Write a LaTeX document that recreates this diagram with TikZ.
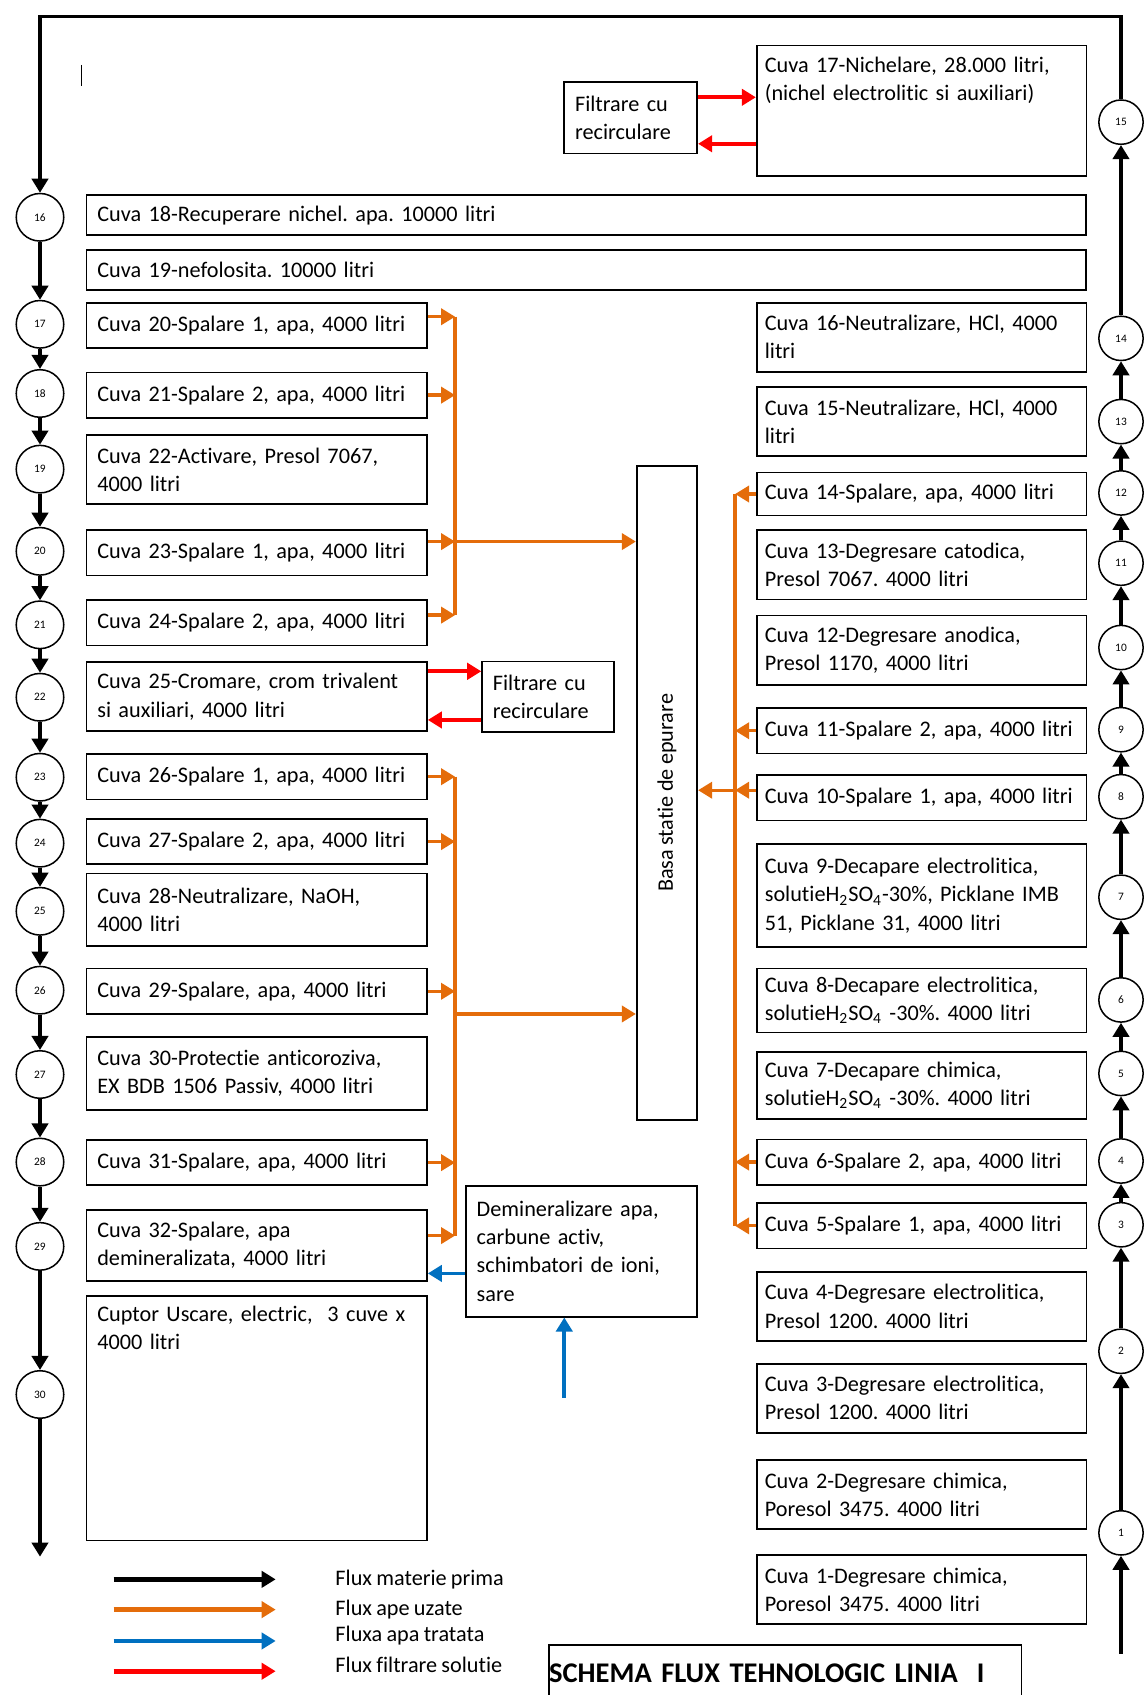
\documentclass[tikz,border=0pt]{standalone}
\usepackage{fontspec}
\setmainfont{Carlito}[Ligatures=NoCommon, WordSpace=0.85]
\frenchspacing
\usepackage{graphicx}
\usetikzlibrary{arrows.meta, calc}
\definecolor{wasteorange}{RGB}{228, 108, 10}
\definecolor{treatblue}{RGB}{0, 112, 192}
\definecolor{filterred}{RGB}{255, 0, 0}

\begin{document}
\begin{tikzpicture}[
  x=0.02cm, y=-0.02cm,
  >={Triangle[length=0.26cm, width=0.3cm]},
  cuva/.style={draw, line width=0.9pt, inner xsep=0.2cm, inner ysep=0.1cm, align=left, font=\fontsize{11.7}{14.8}\selectfont},
  lbox/.style={cuva, text width=5.9cm},
  rbox/.style={cuva, inner xsep=0.15cm, text width=5.8cm},
  wbox/.style={cuva, text width=18.1cm},
  h1/.style={minimum height=0.84cm},
  h2/.style={minimum height=1.28cm},
  nod/.style={circle, draw, line width=0.8pt, inner sep=0pt, minimum size=0.88cm, font=\fontsize{6}{7}\selectfont},
  rnod/.style={nod, minimum size=0.82cm},
  matflow/.style={->, line width=1.8pt},
  wasteflow/.style={->, wasteorange, line width=1.7pt},
  wasteline/.style={wasteorange, line width=1.7pt},
  treatflow/.style={->, treatblue, line width=1.9pt},
  filterflow/.style={->, filterred, line width=2pt},
  legflow/.style={->, line width=2.6pt},
  legtext/.style={anchor=west, inner sep=0pt, font=\fontsize{11.7}{14.8}\selectfont}
]
  \fill[white] (0,0) rectangle (1060,1568);
  \useasboundingbox (0,0) rectangle (1060,1568);

  % Stations along the line
  \foreach \n/\y in {16/201, 17/300, 18/364, 19/434, 20/510, 21/578, 22/645, 23/719, 24/780, 25/843, 26/916, 27/994, 28/1075, 29/1153, 30/1290}
    \node[nod] (c\n) at (37,\y) {\n};
  \foreach \n/\y in {1/1418, 2/1250, 3/1133, 4/1074, 5/993, 6/925, 7/830, 8/737, 9/675, 10/599, 11/521, 12/456, 13/390, 14/313, 15/113}
    \node[rnod] (c\n) at (1037,\y) {\n};

  \coordinate (inright) at (1037,1530);
  \coordinate (topleft) at (37,15);
  \coordinate (outleft) at (37,1440);

  % Raw material flow
  \draw[matflow] (inright) -- (c1);
  \foreach \i in {1,...,14} {
    \pgfmathtruncatemacro{\j}{\i+1}
    \draw[matflow] (c\i) -- (c\j);
  }
  \draw[matflow] (c15) |- (topleft) -- (c16);
  \foreach \i in {16,...,29} {
    \pgfmathtruncatemacro{\j}{\i+1}
    \draw[matflow] (c\i) -- (c\j);
  }
  \draw[matflow] (c30) -- (outleft);

  \draw[line width=0.6pt] (75,60) -- (75,80);

  % Left column tanks
  \node[wbox, minimum height=0.74cm] (cuva18) at (542.5,199) {Cuva 18-Recuperare nichel. apa. 10000 litri};
  \node[wbox, minimum height=0.74cm] (cuva19) at (542.5,250) {Cuva 19-nefolosita. 10000 litri};
  \node[lbox, h1] (cuva20) at (237.5,301) {Cuva 20-Spalare 1, apa, 4000 litri};
  \node[lbox, h1] (cuva21) at (237.5,365.5) {Cuva 21-Spalare 2, apa, 4000 litri};
  \node[lbox, h2] (cuva22) at (237.5,434.5) {Cuva 22-Activare, Presol 7067,\\4000 litri};
  \node[lbox, h1] (cuva23) at (237.5,511.5) {Cuva 23-Spalare 1, apa, 4000 litri};
  \node[lbox, h1] (cuva24) at (237.5,576) {Cuva 24-Spalare 2, apa, 4000 litri};
  \node[lbox, h2] (cuva25) at (237.5,644.5) {Cuva 25-Cromare, crom trivalent\\si auxiliari, 4000 litri};
  \node[lbox, h1] (cuva26) at (237.5,718.5) {Cuva 26-Spalare 1, apa, 4000 litri};
  \node[lbox, h1] (cuva27) at (237.5,778.5) {Cuva 27-Spalare 2, apa, 4000 litri};
  \node[lbox, minimum height=1.34cm] (cuva28) at (237.5,841.5) {Cuva 28-Neutralizare, NaOH,\\4000 litri};
  \node[lbox, h1] (cuva29) at (237.5,917) {Cuva 29-Spalare, apa, 4000 litri};
  \node[lbox, minimum height=1.36cm] (cuva30) at (237.5,993) {Cuva 30-Protectie anticoroziva,\\EX BDB 1506 Passiv, 4000 litri};
  \node[lbox, h1] (cuva31) at (237.5,1075.5) {Cuva 31-Spalare, apa, 4000 litri};
  \node[lbox, minimum height=1.32cm] (cuva32) at (237.5,1152) {Cuva 32-Spalare, apa\\demineralizata, 4000 litri};
  \node[lbox, text height=0.36cm, text depth=3.96cm] (cuptor) at (237.5,1312) {Cuptor Uscare, electric,\ \ 3 cuve x\\4000 litri};

  % Right column tanks
  \node[rbox, text height=0.4cm, text depth=1.82cm] (cuva17) at (852.5,102.5) {Cuva 17-Nichelare, 28.000 litri,\\(nichel electrolitic si auxiliari)};
  \node[rbox, h2] (cuva16) at (852.5,312) {Cuva 16-Neutralizare, HCl, 4000\\litri};
  \node[rbox, h2] (cuva15) at (852.5,390) {Cuva 15-Neutralizare, HCl, 4000\\litri};
  \node[rbox, minimum height=0.8cm] (cuva14) at (852.5,457) {Cuva 14-Spalare, apa, 4000 litri};
  \node[rbox, h2] (cuva13) at (852.5,522.5) {Cuva 13-Degresare catodica,\\Presol 7067. 4000 litri};
  \node[rbox, h2] (cuva12) at (852.5,601.5) {Cuva 12-Degresare anodica,\\Presol 1170, 4000 litri};
  \node[rbox, h1] (cuva11) at (852.5,676) {Cuva 11-Spalare 2, apa, 4000 litri};
  \node[rbox, h1] (cuva10) at (852.5,738) {Cuva 10-Spalare 1, apa, 4000 litri};
  \node[rbox, minimum height=1.9cm] (cuva9) at (852.5,828.5) {Cuva 9-Decapare electrolitica,\\solutieH\textsubscript{2}SO\textsubscript{4}-30\%, Picklane IMB\\51, Picklane 31, 4000 litri};
  \node[rbox, minimum height=1.18cm] (cuva8) at (852.5,925.5) {Cuva 8-Decapare electrolitica,\\solutieH\textsubscript{2}SO\textsubscript{4} -30\%. 4000 litri};
  \node[rbox, minimum height=1.24cm] (cuva7) at (852.5,1004) {Cuva 7-Decapare chimica,\\solutieH\textsubscript{2}SO\textsubscript{4} -30\%. 4000 litri};
  \node[rbox, h1] (cuva6) at (852.5,1075) {Cuva 6-Spalare 2, apa, 4000 litri};
  \node[rbox, h1] (cuva5) at (852.5,1134) {Cuva 5-Spalare 1, apa, 4000 litri};
  \node[rbox, h2] (cuva4) at (852.5,1208.5) {Cuva 4-Degresare electrolitica,\\Presol 1200. 4000 litri};
  \node[rbox, h2] (cuva3) at (852.5,1293.5) {Cuva 3-Degresare electrolitica,\\Presol 1200. 4000 litri};
  \node[rbox, h2] (cuva2) at (852.5,1382.5) {Cuva 2-Degresare chimica,\\Poresol 3475. 4000 litri};
  \node[rbox, h2] (cuva1) at (852.5,1470.5) {Cuva 1-Degresare chimica,\\Poresol 3475. 4000 litri};

  % Filters, treatment station, demineralisation
  \node[cuva, text width=2.06cm, minimum height=1.32cm] (filtr1) at (583.5,109) {Filtrare cu\\recirculare};
  \node[cuva, text width=2.04cm, minimum height=1.3cm] (filtr2) at (507,644.5) {Filtrare cu\\recirculare};
  \node[draw, line width=0.9pt, inner sep=0pt, minimum width=1.12cm, minimum height=12.1cm, font=\fontsize{11.7}{14.8}\selectfont] (basa) at (617,733.5) {\rotatebox{90}{Basa statie de epurare}};
  \node[cuva, text width=3.88cm, minimum height=2.42cm] (demin) at (538,1157.5) {Demineralizare apa,\\carbune activ,\\schimbatori de ioni,\\sare};

  % Filtration loops
  \draw[filterflow] ([yshift=0.38cm]filtr1.east) -- ([yshift=0.38cm]filtr1.east -| cuva17.west);
  \draw[filterflow] ([yshift=-0.48cm]filtr1.east -| cuva17.west) -- ([yshift=-0.48cm]filtr1.east);
  \draw[filterflow] ([yshift=0.47cm]cuva25.east) -- ([yshift=0.47cm]cuva25.east -| filtr2.west);
  \draw[filterflow] ([yshift=-0.43cm]cuva25.east -| filtr2.west) -- ([yshift=-0.43cm]cuva25.east);

  % Waste water collectors
  \coordinate (busa) at (421,0);
  \coordinate (busc) at (680,0);
  \draw[wasteline] ([yshift=0.16cm]cuva20.east -| busa) -- ([yshift=0.14cm]cuva24.east -| busa);
  \foreach \b/\s in {20/0.16cm, 21/0cm, 23/0.21cm, 24/0.14cm}
    \draw[wasteflow] ([yshift=\s]cuva\b.east) -- ([yshift=\s]cuva\b.east -| busa);
  \draw[wasteflow] ([yshift=0.21cm]cuva23.east -| busa) -- ([yshift=0.21cm]cuva23.east -| basa.west);

  \draw[wasteline] (cuva26.east -| busa) -- ([yshift=0.18cm]cuva32.east -| busa);
  \foreach \b/\s in {26/0cm, 27/0cm, 29/0cm, 31/0cm, 32/0.18cm}
    \draw[wasteflow] ([yshift=\s]cuva\b.east) -- ([yshift=\s]cuva\b.east -| busa);
  \draw[wasteflow] ([yshift=-0.42cm]cuva29.east -| busa) -- ([yshift=-0.42cm]cuva29.east -| basa.west);

  \draw[wasteline] (cuva14.west -| busc) -- (cuva5.west -| busc);
  \foreach \b/\s in {14/0cm, 11/0cm, 10/0.14cm, 6/0cm, 5/0cm}
    \draw[wasteflow] ([yshift=\s]cuva\b.west) -- ([yshift=\s]cuva\b.west -| busc);
  \draw[wasteflow] ([yshift=0.14cm]cuva10.west -| busc) -- ([yshift=0.14cm]cuva10.west -| basa.east);

  % Treated water
  \coordinate (apain) at (522,1293);
  \draw[treatflow] ([yshift=-0.41cm]demin.west) -- ([yshift=-0.41cm]demin.west -| cuva32.east);
  \draw[treatflow] (apain) -- (apain |- demin.south);

  % Legend
  \foreach \k/\y/\ty/\col/\txt in {1/1461/1461/black/Flux materie prima, 2/1489/1489/wasteorange/Flux ape uzate, 3/1518/1513/treatblue/Fluxa apa tratata, 4/1546/1540/filterred/Flux filtrare solutie} {
    \coordinate (leg\k) at (105,\y);
    \coordinate (legtip\k) at (255,\y);
    \draw[legflow, \col] (leg\k) -- (legtip\k);
    \node[legtext] (legtxt\k) at (310,\ty) {\txt};
  }

  % Title
  \node[draw, line width=0.9pt, inner xsep=0pt, text width=8.74cm, minimum height=1.04cm, align=left, font=\fontsize{15}{17}\selectfont\bfseries] (title) at (726.5,1548) {SCHEMA FLUX TEHNOLOGIC LINIA\ \ I};
\end{tikzpicture}
\end{document}
